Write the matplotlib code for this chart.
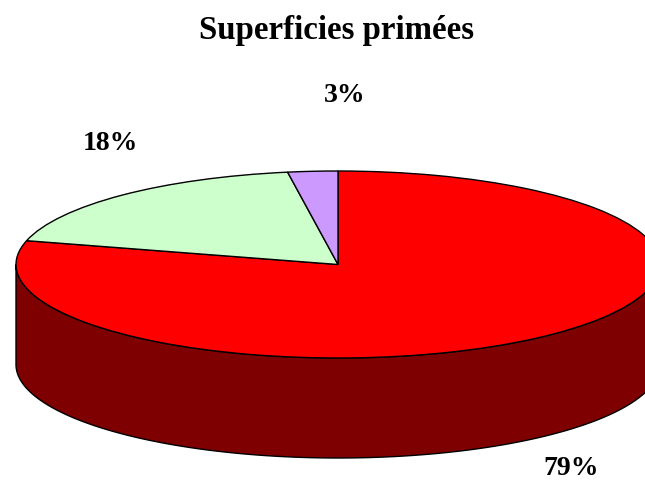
import numpy as np
import matplotlib
matplotlib.use("Agg")
import matplotlib.pyplot as plt

title = "Superficies primées"
values = [79.1, 18.4, 2.5]
value_labels = ["79%", "18%", "3%"]
top_colors = ["#FF0000", "#CCFFCC", "#CC99FF"]
side_color = "#7F0000"

W, H = 645, 481
cx, cy, rx, ry, depth = 338, 265.5, 322, 93.5, 100

fig = plt.figure(figsize=(W / 100, H / 100), dpi=100, facecolor="white")
ax = fig.add_axes([0, 0, 1, 1])

wedges, _ = ax.pie(values, colors=top_colors, startangle=90, counterclock=False,
                   wedgeprops=dict(edgecolor="black", linewidth=1.0, zorder=3))
ax.set_aspect("auto")
ax.set_xlim(-cx / rx, (W - cx) / rx)
ax.set_ylim(-(H - cy) / ry, cy / ry)
ax.axis("off")

# cylinder wall below the visible lower half of the ellipse
d = depth / ry
t = np.linspace(np.pi, 2 * np.pi, 300)
xs = np.cos(t)
ys = np.sin(t)
ax.fill(np.r_[xs, xs[::-1]], np.r_[ys, ys[::-1] - d],
        facecolor=side_color, edgecolor="black", linewidth=1.0, zorder=2)

serif = "Liberation Serif"
def label(px, py, s, size):
    fig.text(px / W, 1 - py / H, s, ha="center", va="center",
             family=serif, weight="bold", size=size, color="black")

label(336.5, 31, title, 23.7)
label(345, 95, value_labels[2], 20)
label(110.5, 143, value_labels[1], 20)
label(571.5, 469, value_labels[0], 20)

fig.savefig("out.png", dpi=100, facecolor="white")
